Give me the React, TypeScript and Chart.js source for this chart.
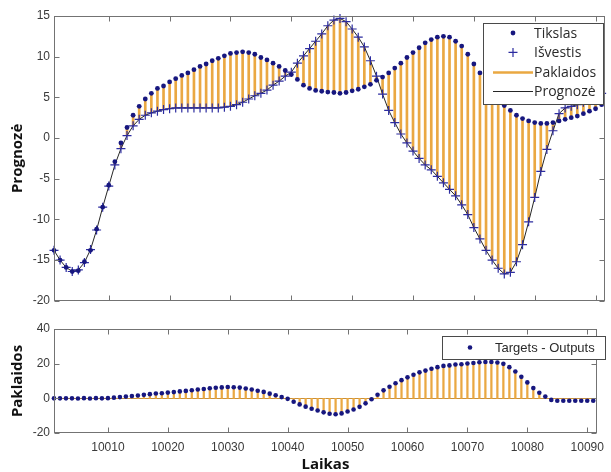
import React, { useEffect, useRef } from 'react';
import { Chart, registerables } from 'chart.js';

Chart.register(...registerables);

// ---- data ----
const times = [
  10001, 10002, 10003, 10004, 10005, 10006, 10007, 10008, 10009, 10010,
  10011, 10012, 10013, 10014, 10015, 10016, 10017, 10018, 10019, 10020,
  10021, 10022, 10023, 10024, 10025, 10026, 10027, 10028, 10029, 10030,
  10031, 10032, 10033, 10034, 10035, 10036, 10037, 10038, 10039, 10040,
  10041, 10042, 10043, 10044, 10045, 10046, 10047, 10048, 10049, 10050,
  10051, 10052, 10053, 10054, 10055, 10056, 10057, 10058, 10059, 10060,
  10061, 10062, 10063, 10064, 10065, 10066, 10067, 10068, 10069, 10070,
  10071, 10072, 10073, 10074, 10075, 10076, 10077, 10078, 10079, 10080,
  10081, 10082, 10083, 10084, 10085, 10086, 10087, 10088, 10089, 10090,
  10091,
];

const target = [
  -13.8, -15.0, -15.9, -16.4, -16.3, -15.2, -13.8, -11.2, -8.5, -5.8,
  -2.9, -0.6, 1.3, 2.8, 3.9, 4.8, 5.5, 6.1, 6.4, 6.9,
  7.3, 7.7, 8.0, 8.4, 8.8, 9.1, 9.5, 9.8, 10.1, 10.4,
  10.5, 10.6, 10.5, 10.3, 9.9, 9.6, 9.2, 8.8, 8.3, 7.8,
  7.2, 6.5, 6.1, 5.85, 5.75, 5.65, 5.6, 5.5, 5.6, 5.8,
  6.0, 6.3, 6.6, 7.1, 7.5, 8.0, 8.6, 9.2, 9.9, 10.5,
  11.1, 11.7, 12.1, 12.4, 12.5, 12.4, 11.9, 11.3, 10.3, 9.1,
  8.0, 7.0, 6.0, 5.0, 4.0, 3.4, 2.8, 2.4, 2.1, 1.9,
  1.8, 1.8, 1.9, 2.1, 2.3, 2.5, 2.7, 3.0, 3.3, 3.6,
  4.1,
];

const output = [
  -13.8, -15.0, -15.9, -16.4, -16.2, -15.3, -13.7, -11.3, -8.5, -5.9,
  -3.3, -1.3, 0.3, 1.5, 2.3, 2.8, 3.1, 3.3, 3.5, 3.6,
  3.7, 3.7, 3.7, 3.7, 3.7, 3.7, 3.7, 3.7, 3.8, 3.9,
  4.1, 4.4, 4.8, 5.2, 5.5, 5.9, 6.5, 7.0, 7.6, 8.1,
  9.2, 10.1, 11.0, 11.9, 12.8, 13.8, 14.5, 14.7, 14.3, 13.4,
  12.4, 11.2, 9.5, 7.6, 5.4, 3.4, 1.9, 0.5, -0.6, -1.6,
  -2.5, -3.3, -3.9, -4.7, -5.5, -6.3, -7.1, -8.2, -9.4, -11.0,
  -12.4, -13.8, -15.0, -16.0, -16.7, -16.5, -15.2, -13.1, -10.3, -7.3,
  -4.1, -1.4, 0.9, 3.0, 3.7, 3.9, 4.1, 4.4, 4.7, 5.0,
  5.5,
];

const errors = [
  0, 0, 0, 0, -0.1, 0.1, -0.1, 0.1, 0, 0.1,
  0.4, 0.7, 1.0, 1.3, 1.6, 2.0, 2.4, 2.8, 2.9, 3.3,
  3.6, 4.0, 4.3, 4.7, 5.1, 5.4, 5.8, 6.1, 6.3, 6.5,
  6.4, 6.2, 5.7, 5.1, 4.4, 3.7, 2.7, 1.8, 0.7, -0.3,
  -2.0, -3.5, -4.8, -6.0, -7.0, -8.1, -8.9, -9.2, -8.7, -7.6,
  -6.4, -4.9, -2.9, -0.5, 2.1, 4.6, 6.7, 8.7, 10.5, 12.1,
  13.6, 15.0, 16.0, 17.1, 18.0, 18.7, 19.0, 19.5, 19.7, 20.1,
  20.4, 20.8, 21.0, 21.0, 20.7, 19.9, 18.0, 15.5, 12.4, 9.2,
  5.9, 3.2, 1.0, -0.9, -1.4, -1.4, -1.4, -1.4, -1.4, -1.4,
  -1.4,
];

const xTicks = [10010, 10020, 10030, 10040, 10050, 10060, 10070, 10080, 10090];
const yTicksTop = [-20, -15, -10, -5, 0, 5, 10, 15];
const yTicksBottom = [-20, 0, 20, 40];

const xMin = 10001;
const xMax = 10091.6;

// ---- styles ----
const NAVY = '#17177f';
const PLUS = '#2c2ca0';
const STEM = '#eaa842';
const FRAME = '#737373';
const TICK_TEXT = '#3a3a3a';

type LegendSpec = {
  box: [number, number, number, number];
  firstY: number;
  rowH: number;
  markerX: number;
  lineX0: number;
  lineX1: number;
  textX: number;
  font: string;
};

function makeFrame(xt: number[], yt: number[], baseline: boolean) {
  return {
    id: 'frame',
    beforeDatasetsDraw(chart: any) {
      if (!baseline) return;
      const { ctx, chartArea: ca, scales } = chart;
      const y0 = Math.round(scales.y.getPixelForValue(0)) + 0.5;
      ctx.save();
      ctx.strokeStyle = '#c9913a';
      ctx.lineWidth = 1;
      ctx.beginPath();
      ctx.moveTo(ca.left, y0);
      ctx.lineTo(ca.right, y0);
      ctx.stroke();
      ctx.restore();
    },
    afterDatasetsDraw(chart: any) {
      const { ctx, chartArea: ca, scales } = chart;
      const len = 5;
      const L = Math.round(ca.left) + 0.5;
      const R = Math.round(ca.right) - 0.5;
      const T = Math.round(ca.top) + 0.5;
      const B = Math.round(ca.bottom) - 0.5;
      ctx.save();
      ctx.strokeStyle = FRAME;
      ctx.lineWidth = 1;
      ctx.strokeRect(L, T, R - L, B - T);
      ctx.beginPath();
      for (const v of xt) {
        const x = Math.round(scales.x.getPixelForValue(v)) + 0.5;
        ctx.moveTo(x, B);
        ctx.lineTo(x, B - len);
        ctx.moveTo(x, T);
        ctx.lineTo(x, T + len);
      }
      for (const v of yt) {
        const y = Math.round(scales.y.getPixelForValue(v)) + 0.5;
        ctx.moveTo(L, y);
        ctx.lineTo(L + len, y);
        ctx.moveTo(R, y);
        ctx.lineTo(R - len, y);
      }
      ctx.stroke();
      ctx.restore();
    },
  };
}

function makeLegend(spec: LegendSpec, kinds: string[]) {
  return {
    id: 'boxLegend',
    afterDraw(chart: any) {
      const { ctx } = chart;
      const [bx, by, bw, bh] = spec.box;
      ctx.save();
      ctx.fillStyle = '#ffffff';
      ctx.fillRect(bx, by, bw, bh);
      ctx.strokeStyle = '#4a4a4a';
      ctx.lineWidth = 1;
      ctx.strokeRect(bx + 0.5, by + 0.5, bw, bh);
      chart.data.datasets.forEach((ds: any, i: number) => {
        const kind = kinds[i];
        if (!kind) return;
        const y = spec.firstY + i * spec.rowH;
        if (kind === 'dot') {
          ctx.fillStyle = ds.backgroundColor;
          ctx.beginPath();
          ctx.arc(spec.markerX, y, ds.pointRadius, 0, Math.PI * 2);
          ctx.fill();
        } else if (kind === 'plus') {
          const r = ds.pointRadius;
          ctx.strokeStyle = ds.borderColor;
          ctx.lineWidth = ds.borderWidth;
          ctx.beginPath();
          ctx.moveTo(spec.markerX - r, y);
          ctx.lineTo(spec.markerX + r, y);
          ctx.moveTo(spec.markerX, y - r);
          ctx.lineTo(spec.markerX, y + r);
          ctx.stroke();
        } else {
          ctx.strokeStyle = kind === 'stem' ? ds.backgroundColor : ds.borderColor;
          ctx.lineWidth = kind === 'stem' ? 2.5 : 1;
          ctx.beginPath();
          ctx.moveTo(spec.lineX0, Math.round(y) + 0.5);
          ctx.lineTo(spec.lineX1, Math.round(y) + 0.5);
          ctx.stroke();
        }
        ctx.fillStyle = '#2a2a2a';
        ctx.font = spec.font;
        ctx.textAlign = 'left';
        ctx.textBaseline = 'middle';
        ctx.fillText(ds.label, spec.textX, y + 1);
      });
      ctx.restore();
    },
  };
}

const tickFont = { family: '"Liberation Sans", Arial, sans-serif', size: 12 };
const titleFont = { family: '"Open Sans", sans-serif', size: 15, weight: 'bold' as const };

function yAxis(min: number, max: number, ticks: number[], title: string) {
  return {
    type: 'linear' as const,
    min,
    max,
    afterBuildTicks: (s: any) => {
      s.ticks = ticks.map((v) => ({ value: v }));
    },
    afterFit: (s: any) => {
      s.width = 54;
    },
    grid: { display: false, drawTicks: false },
    border: { display: false },
    ticks: {
      padding: 4,
      color: TICK_TEXT,
      font: tickFont,
      callback: (v: any) => String(v),
    },
    title: {
      display: true,
      text: title,
      color: '#111111',
      font: titleFont,
      padding: { top: 9, bottom: 0 },
    },
  };
}

export default function App() {
  const topRef = useRef<HTMLCanvasElement | null>(null);
  const botRef = useRef<HTMLCanvasElement | null>(null);

  useEffect(() => {
    if (!topRef.current || !botRef.current) return;

    const topChart = new Chart(topRef.current, {
      type: 'bar',
      data: {
        datasets: [
          {
            type: 'scatter',
            label: 'Tikslas',
            data: times.map((x, i) => ({ x, y: target[i] })),
            pointStyle: 'circle',
            pointRadius: 2.4,
            backgroundColor: NAVY,
            borderColor: NAVY,
            borderWidth: 0,
            order: 0,
            clip: 8,
          } as any,
          {
            type: 'scatter',
            label: 'Išvestis',
            data: times.map((x, i) => ({ x, y: output[i] })),
            pointStyle: 'cross',
            pointRadius: 4.5,
            borderColor: PLUS,
            backgroundColor: PLUS,
            borderWidth: 1.2,
            order: 1,
            clip: 8,
          } as any,
          {
            type: 'bar',
            label: 'Paklaidos',
            data: times.map((x, i) => ({ x, y: [output[i], target[i]] })),
            backgroundColor: STEM,
            borderWidth: 0,
            barThickness: 2,
            order: 3,
          } as any,
          {
            type: 'line',
            label: 'Prognozė',
            data: times.map((x, i) => ({ x, y: output[i] })),
            borderColor: '#262626',
            borderWidth: 1,
            pointRadius: 0,
            tension: 0,
            fill: false,
            order: 2,
          } as any,
        ],
      },
      options: {
        animation: false,
        responsive: false,
        devicePixelRatio: 1,
        layout: { padding: { top: 16, right: 4, bottom: 5, left: 0 } },
        plugins: { legend: { display: false }, tooltip: { enabled: false } },
        scales: {
          x: { type: 'linear', min: xMin, max: xMax, offset: false, display: false },
          y: yAxis(-20, 15, yTicksTop, 'Prognozė'),
        },
      } as any,
      plugins: [
        makeFrame(xTicks, yTicksTop, false),
        makeLegend(
          {
            box: [483, 23, 120, 81],
            firstY: 33,
            rowH: 19.4,
            markerX: 513,
            lineX0: 493,
            lineX1: 533,
            textX: 534,
            font: '14px "Open Sans", sans-serif',
          },
          ['dot', 'plus', 'stem', 'line'],
        ),
      ],
    });

    const botChart = new Chart(botRef.current, {
      type: 'bar',
      data: {
        datasets: [
          {
            type: 'scatter',
            label: 'Targets - Outputs',
            data: times.map((x, i) => ({ x, y: errors[i] })),
            pointStyle: 'circle',
            pointRadius: 2.3,
            backgroundColor: NAVY,
            borderColor: NAVY,
            borderWidth: 0,
            order: 0,
            clip: 8,
          } as any,
          {
            type: 'bar',
            label: 'stems',
            data: times.map((x, i) => ({ x, y: [0, errors[i]] })),
            backgroundColor: STEM,
            borderWidth: 0,
            barThickness: 1.6,
            order: 2,
          } as any,
        ],
      },
      options: {
        animation: false,
        responsive: false,
        devicePixelRatio: 1,
        layout: { padding: { top: 17, right: 4, bottom: 0, left: 0 } },
        plugins: { legend: { display: false }, tooltip: { enabled: false } },
        scales: {
          x: {
            type: 'linear',
            min: xMin,
            max: xMax,
            offset: false,
            afterBuildTicks: (s: any) => {
              s.ticks = xTicks.map((v) => ({ value: v }));
            },
            afterFit: (s: any) => {
              s.height = 43;
            },
            grid: { display: false, drawTicks: false },
            border: { display: false },
            ticks: {
              padding: 7,
              color: TICK_TEXT,
              font: tickFont,
              autoSkip: false,
              maxRotation: 0,
              callback: (v: any) => String(v),
            },
            title: {
              display: true,
              text: 'Laikas',
              color: '#111111',
              font: titleFont,
              padding: { top: 0, bottom: 2 },
            },
          },
          y: yAxis(-20, 40, yTicksBottom, 'Paklaidos'),
        },
      } as any,
      plugins: [
        makeFrame(xTicks, yTicksBottom, true),
        makeLegend(
          {
            box: [442, 24, 163, 23],
            firstY: 35.5,
            rowH: 20,
            markerX: 470,
            lineX0: 460,
            lineX1: 480,
            textX: 495,
            font: '13px "Liberation Sans", Arial, sans-serif',
          },
          ['dot'],
        ),
      ],
    });

    return () => {
      topChart.destroy();
      botChart.destroy();
    };
  }, []);

  return (
    <div
      style={{
        position: 'absolute',
        left: 0,
        top: 0,
        width: 611,
        height: 472,
        overflow: 'hidden',
        background: '#ffffff',
      }}
    >
      <canvas
        ref={topRef}
        width={611}
        height={312}
        style={{ position: 'absolute', left: 0, top: 0, display: 'block' }}
      />
      <canvas
        ref={botRef}
        width={611}
        height={164}
        style={{ position: 'absolute', left: 0, top: 312, display: 'block' }}
      />
    </div>
  );
}
